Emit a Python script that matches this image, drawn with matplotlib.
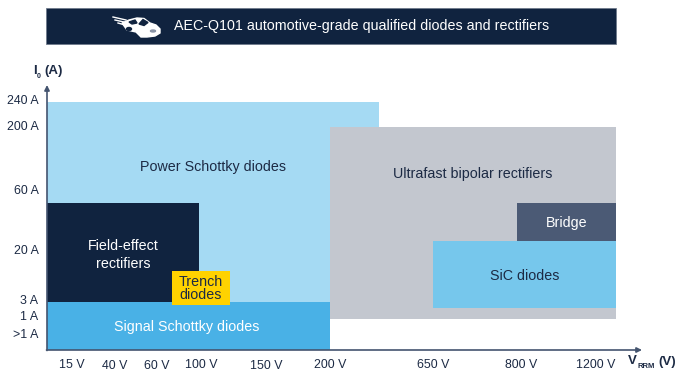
import matplotlib
matplotlib.use("Agg")
import matplotlib.pyplot as plt
from matplotlib.patches import Polygon, Ellipse

plt.rcParams["font.family"] = ["Liberation Sans", "DejaVu Sans"]

NAVY = "#10233f"
TEXT = "#1c2a44"
LABEL_SIZE = 10.3
TICK_SIZE = 8.9

# Regions of the chart, in picture units of the axes
region_names = ["power", "ultrafast", "field", "signal", "bridge", "sic", "trench"]
region_left = [47, 330, 47, 47, 517, 433, 172]
region_right = [379, 616, 199, 330, 616, 616, 230]
region_top = [102, 127, 203, 302, 203, 241, 271]
region_bottom = [302, 319, 302, 350, 241, 308, 305]
region_colors = ["#a5daf3", "#c3c7cf", NAVY, "#49b1e6", "#4b5a75", "#76c7ec", "#ffd200"]

# Axis labels
volt_labels = ["15 V", "40 V", "60 V", "100 V", "150 V", "200 V", "650 V", "800 V", "1200 V"]
volt_pos = [71.5, 115, 157, 201, 266, 330, 433, 521, 596]
volt_y = [365, 366, 366, 365, 366, 365, 365, 365, 365]
amp_labels = ["240 A", "200 A", "60 A", "20 A", "3 A", "1 A", ">1 A"]
amp_pos = [100.5, 126.5, 191.5, 250.5, 300.5, 317.5, 335.5]

fig = plt.figure(figsize=(6.76, 3.80), dpi=100)
ax = fig.add_axes([0, 0, 1, 1])
ax.set_xlim(0, 676)
ax.set_ylim(380, 0)
ax.axis("off")

# Title band
ax.barh(26, 570, height=36, left=46, color=NAVY, edgecolor="#6f7a8c", linewidth=0.6)
ax.text(174, 26, "AEC-Q101 automotive-grade qualified diodes and rectifiers",
        color="white", fontsize=LABEL_SIZE, va="center", ha="left")

# Little car in the title band
car = [(122, 23), (129, 20), (137, 18), (144, 18.5), (150, 23), (156, 25), (160, 29),
       (160, 33), (155, 36), (147, 37), (141, 37), (136, 32), (127, 30)]
ax.add_patch(Polygon(car, closed=True, color="white", zorder=3))
ax.add_patch(Polygon([(139, 24), (143, 19.5), (148, 22.5), (144, 25.5)],
                     closed=True, color=NAVY, zorder=4))
ax.add_patch(Polygon([(129, 22), (135, 20), (137, 23), (132, 24)],
                     closed=True, color=NAVY, zorder=4))
ax.add_patch(Ellipse((153, 31), 5, 2, color="#8a94a6", zorder=4))
ax.add_patch(Ellipse((129, 29), 5, 3, color=NAVY, zorder=4))
for x0, y0, x1, y1 in [(113, 17, 126, 20), (115, 20, 124, 22), (118, 23, 125, 25)]:
    ax.plot([x0, x1], [y0, y1], color="white", lw=1, zorder=3)

# Regions
for left, right, top, bottom, color in zip(region_left, region_right, region_top,
                                           region_bottom, region_colors):
    ax.bar(left, bottom - top, width=right - left, bottom=top, align="edge",
           color=color, linewidth=0)

# Region labels
ax.text(213, 166.5, "Power Schottky diodes", color=TEXT, fontsize=LABEL_SIZE, ha="center", va="center")
ax.text(473, 174, "Ultrafast bipolar rectifiers", color=TEXT, fontsize=LABEL_SIZE, ha="center", va="center")
ax.text(123, 246.5, "Field-effect", color="white", fontsize=LABEL_SIZE, ha="center", va="center")
ax.text(123, 264.5, "rectifiers", color="white", fontsize=LABEL_SIZE, ha="center", va="center")
ax.text(201, 281.5, "Trench", color=TEXT, fontsize=LABEL_SIZE, ha="center", va="center")
ax.text(201, 295, "diodes", color=TEXT, fontsize=LABEL_SIZE, ha="center", va="center")
ax.text(187, 326.5, "Signal Schottky diodes", color="white", fontsize=LABEL_SIZE, ha="center", va="center")
ax.text(567, 222.5, "Bridge", color="white", fontsize=LABEL_SIZE, ha="center", va="center")
ax.text(525, 275.5, "SiC diodes", color=TEXT, fontsize=LABEL_SIZE, ha="center", va="center")

# Axes arrows
arrow = dict(arrowstyle="-|>,head_width=0.15,head_length=0.3", color="#44546f", lw=1.2,
             shrinkA=0, shrinkB=0)
ax.annotate("", xy=(47, 85), xytext=(47, 350.5), arrowprops=arrow)
ax.annotate("", xy=(642, 350), xytext=(46.5, 350), arrowprops=arrow)

# Tick labels
for label, x, y in zip(volt_labels, volt_pos, volt_y):
    ax.text(x, y, label, color=TEXT, fontsize=TICK_SIZE, ha="center", va="center")
for label, y in zip(amp_labels, amp_pos):
    ax.text(38.5, y, label, color=TEXT, fontsize=TICK_SIZE, ha="right", va="center")

# Axis titles
ax.text(33, 71, "I", color=TEXT, fontsize=9.5, fontweight="bold", ha="left", va="center")
ax.text(36.5, 76, "0", color=TEXT, fontsize=5, fontweight="bold", ha="left", va="center")
ax.text(44, 71, "(A)", color=TEXT, fontsize=9.5, fontweight="bold", ha="left", va="center")
ax.text(628, 361.5, "V", color=TEXT, fontsize=9.5, fontweight="bold", ha="left", va="center")
ax.text(637, 366, "RRM", color=TEXT, fontsize=5.5, fontweight="bold", ha="left", va="center")
ax.text(658, 361.5, "(V)", color=TEXT, fontsize=9.5, fontweight="bold", ha="left", va="center")

fig.savefig("out.png", dpi=100)
